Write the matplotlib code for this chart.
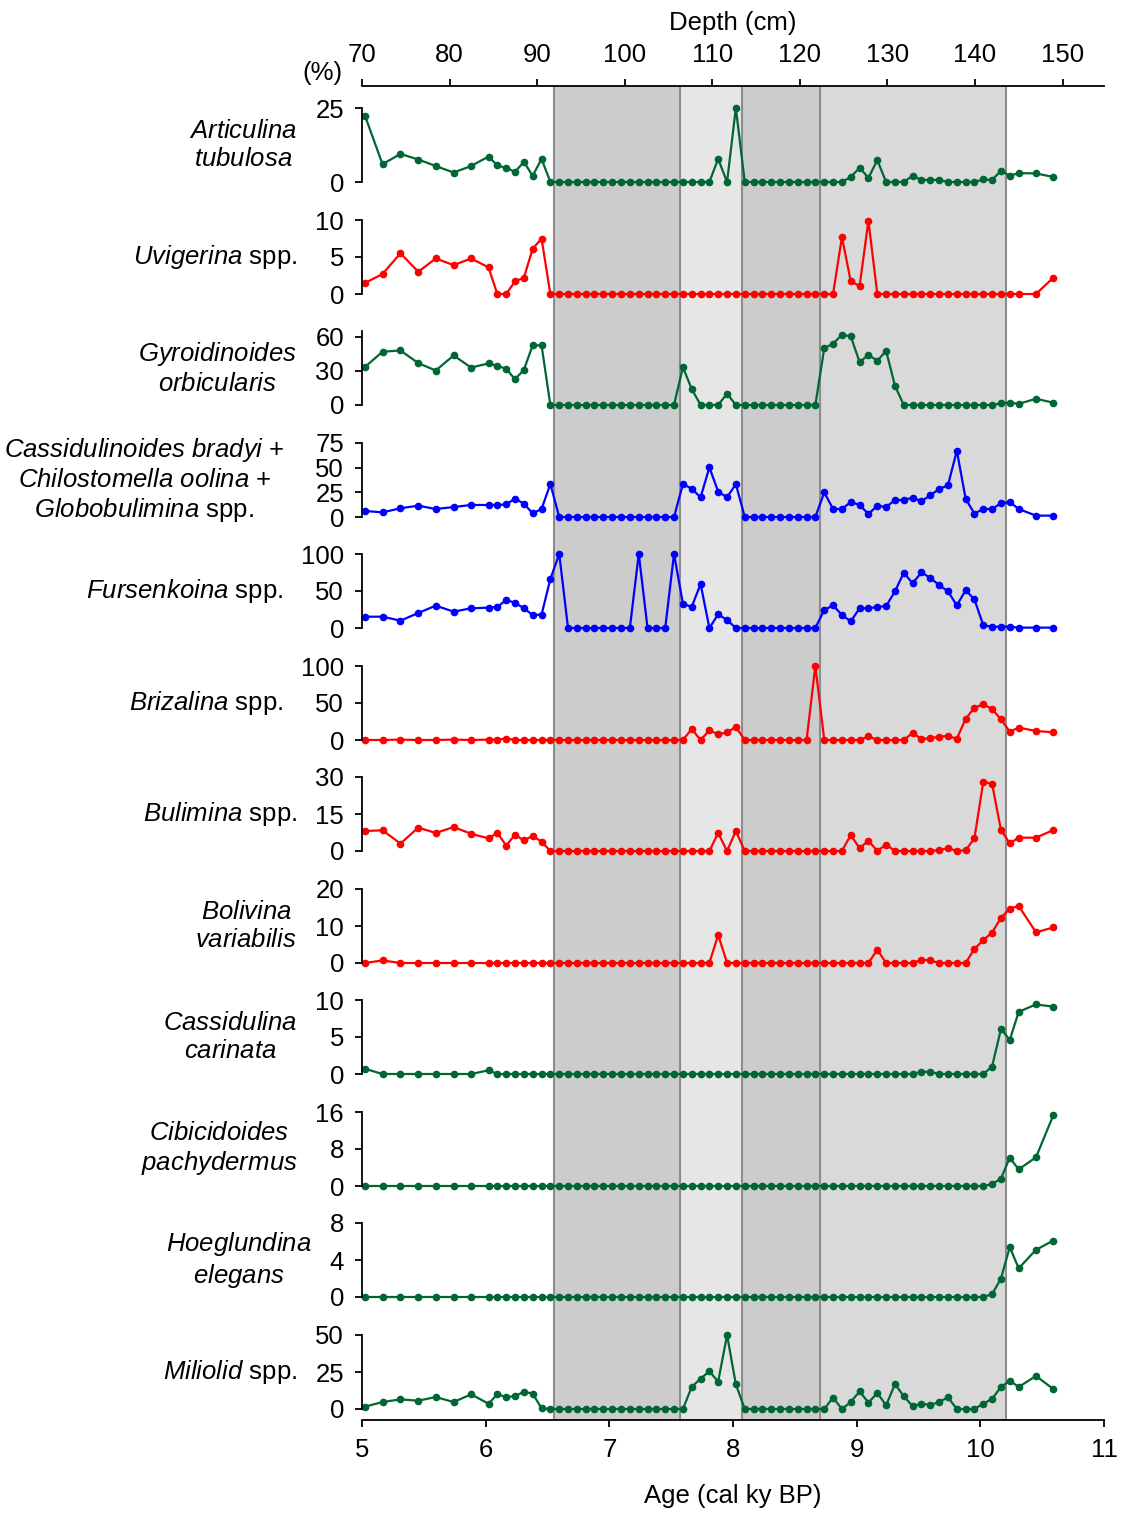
import matplotlib
matplotlib.use('Agg')
import matplotlib.pyplot as plt

plt.rcParams['font.family'] = ['Liberation Sans', 'DejaVu Sans']
plt.rcParams['mathtext.fontset'] = 'custom'
plt.rcParams['mathtext.rm'] = 'Liberation Sans'
plt.rcParams['mathtext.it'] = 'Liberation Sans:italic'
plt.rcParams['mathtext.bf'] = 'Liberation Sans:bold'

# ---------------- data ----------------
ages = [5.025, 5.166, 5.311, 5.455, 5.596, 5.741, 5.882,
        6.023, 6.094, 6.166, 6.237, 6.309, 6.380, 6.452, 6.523, 6.595, 6.666,
        6.738, 6.809, 6.880, 6.952, 7.023, 7.095, 7.166, 7.238, 7.309, 7.381,
        7.452, 7.523, 7.595, 7.666, 7.738, 7.809, 7.880, 7.952, 8.023, 8.095,
        8.166, 8.238, 8.309, 8.381, 8.452, 8.523, 8.595, 8.666, 8.738, 8.809,
        8.881, 8.952, 9.024, 9.095, 9.167, 9.238, 9.310, 9.381, 9.452, 9.524,
        9.595, 9.667, 9.738, 9.810, 9.881, 9.952, 10.024, 10.095, 10.167, 10.238,
        10.310, 10.450, 10.590]

articulina = [22.3, 6.0, 9.5, 7.6, 5.4, 3.2, 5.4, 8.6, 5.6, 4.8,
              3.4, 6.8, 2.1, 7.8, 0, 0, 0, 0, 0, 0,
              0, 0, 0, 0, 0, 0, 0, 0, 0, 0,
              0, 0, 0, 7.8, 0, 25.0, 0, 0, 0, 0,
              0, 0, 0, 0, 0, 0, 0, 0, 1.7, 4.8,
              1.4, 7.4, 0, 0, 0, 2.1, 0.7, 0.7, 0.7, 0,
              0, 0, 0, 0.9, 0.7, 3.8, 2.1, 3.0, 2.9, 1.7]

uvigerina = [1.5, 2.7, 5.5, 3.0, 4.8, 3.9, 4.8, 3.6, 0, 0,
             1.7, 2.2, 6.1, 7.5, 0, 0, 0, 0, 0, 0,
             0, 0, 0, 0, 0, 0, 0, 0, 0, 0,
             0, 0, 0, 0, 0, 0, 0, 0, 0, 0,
             0, 0, 0, 0, 0, 0, 0, 7.7, 1.7, 1.1,
             9.9, 0, 0, 0, 0, 0, 0, 0, 0, 0,
             0, 0, 0, 0, 0, 0, 0, 0, 0, 2.2]

gyroidinoides = [33.5, 46.8, 47.9, 36.8, 30.3, 43.5, 32.9, 36.5, 34.4, 31.8,
                 22.6, 30.9, 52.4, 52.4, 0, 0, 0, 0, 0, 0,
                 0, 0, 0, 0, 0, 0, 0, 0, 0, 33.2,
                 14.1, 0, 0, 0, 10.0, 0, 0, 0, 0, 0,
                 0, 0, 0, 0, 0, 50.0, 53.8, 61.8, 60.3, 37.6,
                 44.1, 38.8, 47.6, 16.8, 0, 0, 0, 0, 0, 0,
                 0, 0, 0, 0, 0, 1.5, 2.0, 1.0, 5.5, 2.0]

cassidulinoides_group = [6.1, 4.7, 8.8, 11.5, 8.1, 10.1, 12.2, 12.2, 12.2, 12.8,
                         18.6, 13.5, 3.7, 8.1, 33.4, 0, 0, 0, 0, 0,
                         0, 0, 0, 0, 0, 0, 0, 0, 0, 33.4,
                         28.7, 19.9, 50.3, 25.7, 19.9, 33.4, 0, 0, 0, 0,
                         0, 0, 0, 0, 0, 25.0, 8.1, 8.1, 15.2, 12.2,
                         3.0, 11.5, 10.1, 17.2, 17.2, 19.6, 15.9, 22.0, 28.4, 32.1,
                         67.2, 18.6, 3.4, 8.1, 8.1, 13.9, 15.2, 8.1, 1.4, 1.4]

fursenkoina = [15.3, 15.3, 9.9, 20.3, 30.2, 22.1, 26.6, 27.5, 28.4, 37.8,
               34.2, 26.6, 17.6, 18.0, 66.2, 100, 0, 0, 0, 0,
               0, 0, 0, 0, 100, 0, 0, 0, 100, 32.9,
               28.4, 59.5, 0, 18.5, 10.8, 0, 0, 0, 0, 0,
               0, 0, 0, 0, 0, 24.3, 30.6, 17.6, 9.0, 26.6,
               26.6, 28.4, 29.7, 49.5, 74.8, 60.4, 75.2, 67.6, 58.1, 49.5,
               30.6, 50.9, 38.7, 3.6, 1.8, 1.8, 1.8, 0.5, 0.5, 0.5]

brizalina = [0, 0, 0.5, 0, 0, 0.5, 0, 0.5, 0.5, 2.0,
             0, 0, 0, 0, 0, 0, 0, 0, 0, 0,
             0, 0, 0, 0, 0, 0, 0, 0, 0, 0,
             14.9, 0, 13.0, 7.7, 10.4, 17.6, 0, 0, 0, 0,
             0, 0, 0, 0, 100, 0, 0, 0, 0, 0,
             5.0, 0, 0, 0, 0, 9.5, 1.4, 2.3, 4.5, 5.4,
             1.8, 28.4, 43.7, 48.2, 41.9, 27.9, 11.3, 16.7, 12.2, 10.4]

bulimina = [8.1, 8.4, 3.0, 9.5, 7.3, 9.7, 7.0, 5.1, 7.4, 2.2,
            6.6, 4.3, 6.1, 3.8, 0, 0, 0, 0, 0, 0,
            0, 0, 0, 0, 0, 0, 0, 0, 0, 0,
            0, 0, 0, 7.3, 0, 8.1, 0, 0, 0, 0,
            0, 0, 0, 0, 0, 0, 0, 0, 6.5, 1.1,
            4.2, 0, 2.6, 0, 0, 0, 0, 0, 0.3, 1.2,
            0, 0.3, 5.1, 28.1, 27.2, 8.5, 3.1, 5.4, 5.4, 8.5]

bolivina = [0, 0.7, 0, 0, 0, 0, 0, 0, 0, 0,
            0, 0, 0, 0, 0, 0, 0, 0, 0, 0,
            0, 0, 0, 0, 0, 0, 0, 0, 0, 0,
            0, 0, 0, 7.6, 0, 0, 0, 0, 0, 0,
            0, 0, 0, 0, 0, 0, 0, 0, 0, 0,
            0, 3.6, 0, 0, 0, 0, 0.9, 0.7, 0, 0,
            0, 0, 3.8, 6.2, 8.2, 12.2, 14.7, 15.4, 8.3, 9.6]

cassidulina = [0.7, 0, 0, 0, 0, 0, 0, 0.5, 0, 0,
               0, 0, 0, 0, 0, 0, 0, 0, 0, 0,
               0, 0, 0, 0, 0, 0, 0, 0, 0, 0,
               0, 0, 0, 0, 0, 0, 0, 0, 0, 0,
               0, 0, 0, 0, 0, 0, 0, 0, 0, 0,
               0, 0, 0, 0, 0, 0, 0.3, 0.3, 0, 0,
               0, 0, 0, 0, 1.0, 6.1, 4.6, 8.4, 9.4, 9.1]

cibicidoides = [0, 0, 0, 0, 0, 0, 0, 0, 0, 0,
                0, 0, 0, 0, 0, 0, 0, 0, 0, 0,
                0, 0, 0, 0, 0, 0, 0, 0, 0, 0,
                0, 0, 0, 0, 0, 0, 0, 0, 0, 0,
                0, 0, 0, 0, 0, 0, 0, 0, 0, 0,
                0, 0, 0, 0, 0, 0, 0, 0, 0, 0,
                0, 0, 0, 0, 0.4, 1.6, 6.1, 3.6, 6.2, 15.3]

hoeglundina = [0, 0, 0, 0, 0, 0, 0, 0, 0, 0,
               0, 0, 0, 0, 0, 0, 0, 0, 0, 0,
               0, 0, 0, 0, 0, 0, 0, 0, 0, 0,
               0, 0, 0, 0, 0, 0, 0, 0, 0, 0,
               0, 0, 0, 0, 0, 0, 0, 0, 0, 0,
               0, 0, 0, 0, 0, 0, 0, 0, 0, 0,
               0, 0, 0, 0, 0.3, 2.0, 5.4, 3.1, 5.1, 6.1]

miliolid = [1.6, 4.7, 6.5, 5.6, 8.1, 4.7, 9.9, 3.6, 9.9, 8.1,
            8.6, 11.7, 10.4, 0.5, 0, 0, 0, 0, 0, 0,
            0, 0, 0, 0, 0, 0, 0, 0, 0, 0,
            14.9, 20.5, 25.5, 18.5, 50.0, 16.7, 0, 0, 0, 0,
            0, 0, 0, 0, 0, 0, 7.7, 0, 4.7, 11.9,
            4.3, 10.8, 2.5, 16.9, 8.6, 2.0, 3.6, 2.7, 4.7, 7.9,
            0, 0, 0, 3.6, 6.8, 14.9, 19.1, 14.9, 22.3, 13.5]

labels = [
    r"$\mathit{Articulina}$" "\n" r"$\mathit{tubulosa}$",
    r"$\mathit{Uvigerina}$ spp.",
    r"$\mathit{Gyroidinoides}$" "\n" r"$\mathit{orbicularis}$",
    r"$\mathit{Cassidulinoides\ bradyi}$ +" "\n" r"$\mathit{Chilostomella\ oolina}$ +" "\n" r"$\mathit{Globobulimina}$ spp.",
    r"$\mathit{Fursenkoina}$ spp.",
    r"$\mathit{Brizalina}$ spp.",
    r"$\mathit{Bulimina}$ spp.",
    r"$\mathit{Bolivina}$" "\n" r"$\mathit{variabilis}$",
    r"$\mathit{Cassidulina}$" "\n" r"$\mathit{carinata}$",
    r"$\mathit{Cibicidoides}$" "\n" r"$\mathit{pachydermus}$",
    r"$\mathit{Hoeglundina}$" "\n" r"$\mathit{elegans}$",
    r"$\mathit{Miliolid}$ spp.",
]
series = [articulina, uvigerina, gyroidinoides, cassidulinoides_group, fursenkoina,
          brizalina, bulimina, bolivina, cassidulina, cibicidoides, hoeglundina, miliolid]
ymaxs = [25, 10, 65, 75, 100, 100, 30, 20, 10, 16, 8, 50]
yticks = [[0, 25], [0, 5, 10], [0, 30, 60], [0, 25, 50, 75], [0, 50, 100], [0, 50, 100],
          [0, 15, 30], [0, 10, 20], [0, 5, 10], [0, 8, 16], [0, 4, 8], [0, 25, 50]]

GREEN, RED, BLUE = '#006633', '#FF0000', '#0000FF'
colors = [GREEN, RED, GREEN, BLUE, BLUE, RED, RED, RED, GREEN, GREEN, GREEN, GREEN]

age_ticks = [5, 6, 7, 8, 9, 10, 11]
depth_ticks = [70, 80, 90, 100, 110, 120, 130, 140, 150]
zones = [(6.55, 7.57, '#CCCCCC'), (7.57, 8.07, '#E6E6E6'),
         (8.07, 8.70, '#CCCCCC'), (8.70, 10.21, '#D9D9D9')]
zone_edges = [6.55, 7.57, 8.07, 8.70, 10.21]

for s in series:
    if len(s) != len(ages):
        raise ValueError('length mismatch %d' % len(s))

# ---------------- layout ----------------
W, H = 1123, 1513
FS = 18.5
LW_AX = 1.3


def rect(x0, x1, ytop, ybot):
    return [x0 / W, 1 - ybot / H, (x1 - x0) / W, (ybot - ytop) / H]


fig = plt.figure(figsize=(W / 100, H / 100), dpi=100)

bg = fig.add_axes(rect(362, 1104, 86, 1420))
bg.set_xlim(5, 11)
bg.set_ylim(0, 1)
for a, b, c in zones:
    bg.axvspan(a, b, color=c, lw=0, zorder=0)
for x in zone_edges:
    bg.axvline(x, color='#8C8C8C', lw=1.5, zorder=1)
for s in ['left', 'right', 'top']:
    bg.spines[s].set_visible(False)
bg.spines['bottom'].set_linewidth(LW_AX)
bg.set_yticks([])
bg.set_xticks(age_ticks)
bg.tick_params(axis='x', length=5, width=LW_AX, pad=8, labelsize=FS)
bg.set_xlabel('Age (cal ky BP)', fontsize=FS, labelpad=16)

top = bg.twiny()
top.set_xlim(70, 154.73)
for s in ['left', 'right', 'bottom']:
    top.spines[s].set_visible(False)
top.spines['top'].set_linewidth(LW_AX)
top.set_xticks(depth_ticks)
top.tick_params(axis='x', length=5, width=LW_AX, pad=9, labelsize=FS)
top.set_xlabel('Depth (cm)', fontsize=FS, labelpad=9)

bottoms = [182, 294, 405, 517, 628, 740, 851, 963, 1074, 1186, 1297, 1409]
pads = [13, 13, 13, 22, 13, 13, 13, 13, 13, 13, 13, 13]
for i in range(12):
    ax = fig.add_axes(rect(362, 1104, bottoms[i] - 74, bottoms[i]))
    ax.set_xlim(5, 11)
    ax.set_ylim(0, ymaxs[i])
    ax.patch.set_alpha(0)
    for s in ['top', 'right', 'bottom']:
        ax.spines[s].set_visible(False)
    ax.spines['left'].set_linewidth(LW_AX)
    ax.set_xticks([])
    ax.set_yticks(yticks[i])
    ax.tick_params(axis='y', length=5, width=LW_AX, pad=8, labelsize=FS)
    ax.plot(ages, series[i], '-o', color=colors[i], lw=1.6, ms=4.5, clip_on=False)
    ax.set_ylabel(labels[i], rotation=0, ha='right', va='center',
                  multialignment='center', fontsize=FS, labelpad=pads[i])

fig.text(322 / W, 1 - 73 / H, '(%)', ha='center', va='center', fontsize=FS)

fig.savefig('out.png', dpi=100)
